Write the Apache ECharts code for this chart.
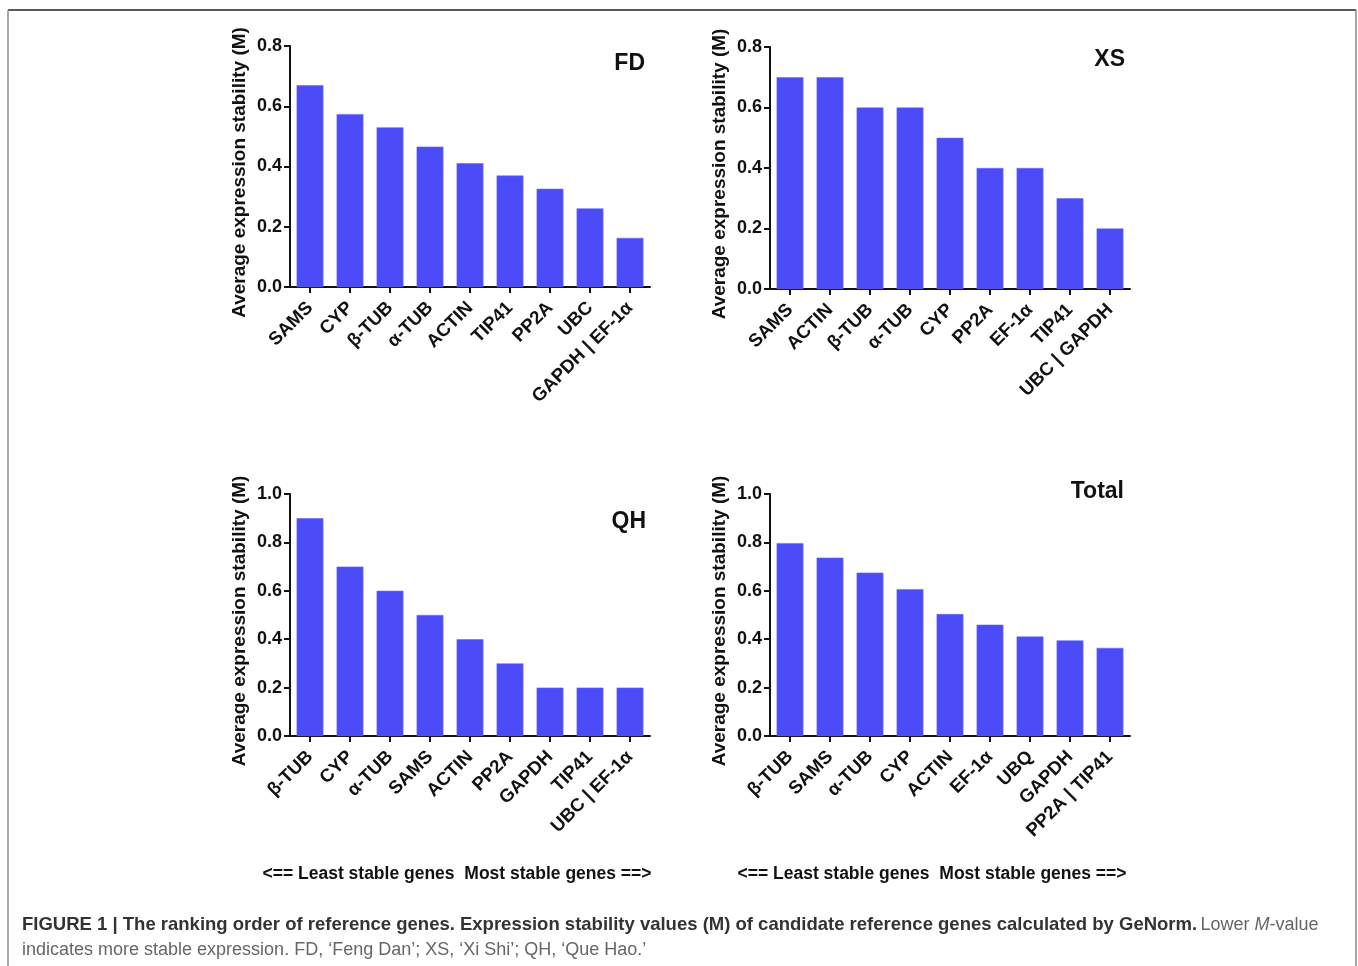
<!DOCTYPE html>
<html>
<head>
<meta charset="utf-8">
<script src="https://cdn.jsdelivr.net/npm/echarts@6/dist/echarts.min.js"></script>
<style>
  html, body { margin: 0; padding: 0; background: #fff; }
  #chart { width: 1358px; height: 966px; }
</style>
</head>
<body>
<div id="chart"></div>
<script>
// geNorm average expression stability (M) per cultivar, ordered least -> most stable
const fdGenes = ['SAMS', 'CYP', 'β-TUB', 'α-TUB', 'ACTIN', 'TIP41', 'PP2A', 'UBC', 'GAPDH | EF-1α'];
const fdM = [0.670, 0.574, 0.530, 0.466, 0.411, 0.370, 0.326, 0.261, 0.163];

const xsGenes = ['SAMS', 'ACTIN', 'β-TUB', 'α-TUB', 'CYP', 'PP2A', 'EF-1α', 'TIP41', 'UBC | GAPDH'];
const xsM = [0.7, 0.7, 0.6, 0.6, 0.5, 0.4, 0.4, 0.3, 0.2];

const qhGenes = ['β-TUB', 'CYP', 'α-TUB', 'SAMS', 'ACTIN', 'PP2A', 'GAPDH', 'TIP41', 'UBC | EF-1α'];
const qhM = [0.9, 0.7, 0.6, 0.5, 0.4, 0.3, 0.2, 0.2, 0.2];

const totalGenes = ['β-TUB', 'SAMS', 'α-TUB', 'CYP', 'ACTIN', 'EF-1α', 'UBQ', 'GAPDH', 'PP2A | TIP41'];
const totalM = [0.797, 0.737, 0.675, 0.607, 0.504, 0.460, 0.411, 0.395, 0.364];

const panelNames = ['FD', 'XS', 'QH', 'Total'];
const yMax = [0.8, 0.8, 1.0, 1.0];
const yStep = 0.2;

const yName = 'Average expression stability (M)';
const directionNote = '<== Least stable genes  Most stable genes ==>';
const captionBold = 'FIGURE 1 | The ranking order of reference genes. Expression stability values (M) of candidate reference genes calculated by GeNorm.';
const captionLine2 = 'indicates more stable expression. FD, ‘Feng Dan’; XS, ‘Xi Shi’; QH, ‘Que Hao.’';

const panels = [
  { genes: fdGenes, values: fdM },
  { genes: xsGenes, values: xsM },
  { genes: qhGenes, values: qhM },
  { genes: totalGenes, values: totalM }
];

// plot rectangles for the 2x2 layout
const grids = [
  { left: 290, top: 46, width: 360, height: 241 },
  { left: 770, top: 47, width: 360, height: 242 },
  { left: 290, top: 494, width: 360, height: 242 },
  { left: 770, top: 494, width: 360, height: 242 }
];

const FONT = '"Liberation Sans", Arial, sans-serif';
const BAR = '#4b4bf8';

const chart = echarts.init(document.getElementById('chart'), null, { renderer: 'canvas' });

const option = {
  backgroundColor: '#fff',
  animation: false,
  grid: grids.map(g => Object.assign({ containLabel: false }, g)),
  xAxis: panels.map((p, i) => ({
    type: 'category',
    gridIndex: i,
    data: p.genes,
    axisLine: { show: true, lineStyle: { color: '#111', width: 2 } },
    axisTick: { show: true, alignWithLabel: true, length: 6, lineStyle: { color: '#111', width: 2 } },
    axisLabel: {
      interval: 0, rotate: 45, margin: 18,
      color: '#111', fontFamily: FONT, fontWeight: 'bold', fontSize: 18.5
    }
  })),
  yAxis: panels.map((p, i) => ({
    type: 'value',
    gridIndex: i,
    min: 0, max: yMax[i], interval: yStep,
    name: yName,
    nameLocation: 'middle',
    nameGap: 41,
    nameTextStyle: {
      color: '#111', fontFamily: FONT, fontWeight: 'bold', fontSize: 19,
      padding: [0, 12, 0, 0]
    },
    splitLine: { show: false },
    axisLine: { show: true, lineStyle: { color: '#111', width: 2 } },
    axisTick: { show: true, length: 6, lineStyle: { color: '#111', width: 2 } },
    axisLabel: {
      margin: 8, color: '#111', fontFamily: FONT, fontWeight: 'bold', fontSize: 18,
      formatter: v => v.toFixed(1)
    }
  })),
  series: panels.map((p, i) => ({
    type: 'bar',
    xAxisIndex: i,
    yAxisIndex: i,
    data: p.values,
    barCategoryGap: '33%',
    itemStyle: { color: BAR, borderColor: '#6a6aff', borderWidth: 0.6 }
  })),
  graphic: [
    // figure frame
    { type: 'line', shape: { x1: 8, y1: 10, x2: 1356, y2: 10 }, style: { stroke: '#222', lineWidth: 1.5 } },
    { type: 'line', shape: { x1: 8, y1: 10, x2: 8, y2: 966 }, style: { stroke: '#8a8a8a', lineWidth: 1.5 } },
    { type: 'line', shape: { x1: 1356, y1: 10, x2: 1356, y2: 966 }, style: { stroke: '#8a8a8a', lineWidth: 1.5 } },
    // panel titles
    { type: 'text', x: 645, y: 64, style: { text: panelNames[0], textAlign: 'right', textVerticalAlign: 'middle', font: 'bold 23px ' + FONT, fill: '#111' } },
    { type: 'text', x: 1125, y: 60, style: { text: panelNames[1], textAlign: 'right', textVerticalAlign: 'middle', font: 'bold 23px ' + FONT, fill: '#111' } },
    { type: 'text', x: 646, y: 522, style: { text: panelNames[2], textAlign: 'right', textVerticalAlign: 'middle', font: 'bold 23px ' + FONT, fill: '#111' } },
    { type: 'text', x: 1124, y: 492, style: { text: panelNames[3], textAlign: 'right', textVerticalAlign: 'middle', font: 'bold 23px ' + FONT, fill: '#111' } },
    // ranking direction notes
    { type: 'text', x: 457, y: 874, style: { text: directionNote, textAlign: 'center', textVerticalAlign: 'middle', font: 'bold 17.5px ' + FONT, fill: '#111' } },
    { type: 'text', x: 932, y: 874, style: { text: directionNote, textAlign: 'center', textVerticalAlign: 'middle', font: 'bold 17.5px ' + FONT, fill: '#111' } },
    // caption
    {
      type: 'text', x: 22, y: 925,
      style: {
        text: '{b|' + captionBold + '} {n|Lower }{i|M}{n|-value}',
        textVerticalAlign: 'middle',
        rich: {
          b: { font: 'bold 18.5px ' + FONT, fill: '#333' },
          n: { font: '18px ' + FONT, fill: '#666' },
          i: { font: 'italic 18px ' + FONT, fill: '#666' }
        }
      }
    },
    { type: 'text', x: 22, y: 950, style: { text: captionLine2, textVerticalAlign: 'middle', font: '18px ' + FONT, fill: '#666' } }
  ]
};

chart.setOption(option);
</script>
</body>
</html>
